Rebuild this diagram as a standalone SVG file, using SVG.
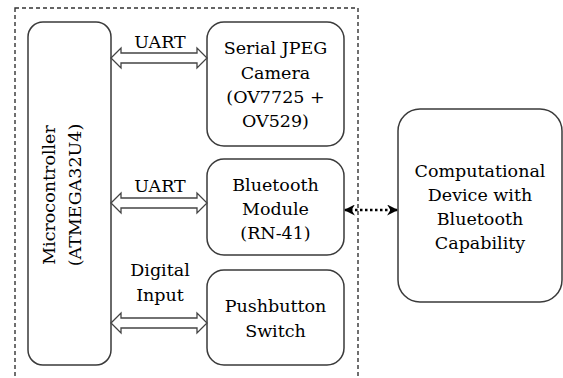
<svg xmlns="http://www.w3.org/2000/svg" width="563" height="378" viewBox="0 0 563 378">
<style>
.box{fill:#fff;stroke:#3a3a3a;stroke-width:1.5}
.t{font-family:"DejaVu Serif","Liberation Serif",serif;font-size:17.5px;fill:#000;text-anchor:middle}
.dbl{fill:#fff;stroke:#444;stroke-width:1.3;stroke-linejoin:miter}
</style>
<defs>
<marker id="ah" viewBox="0 0 10 10" refX="9" refY="5" markerWidth="11" markerHeight="11" markerUnits="userSpaceOnUse" orient="auto-start-reverse">
<path d="M0,0 L10,5 L0,10 L3,5 Z" fill="#000"/>
</marker>
</defs>
<rect x="15" y="8" width="343" height="380" fill="none" stroke="#333" stroke-width="1.4" stroke-dasharray="4,3"/>
<g id="mcu">
<rect class="box" x="28" y="22" width="83" height="343" rx="15"/>
<text class="t" transform="translate(55,195) rotate(-90)">Microcontroller</text>
<text class="t" transform="translate(81,195) rotate(-90)">(ATMEGA32U4)</text>
</g>
<g id="camera">
<rect class="box" x="207" y="22" width="137" height="124" rx="17"/>
<text class="t" x="275.5" y="54">Serial JPEG</text>
<text class="t" x="275.5" y="79">Camera</text>
<text class="t" x="275.5" y="103">(OV7725 +</text>
<text class="t" x="275.5" y="127">OV529)</text>
</g>
<g id="bluetooth">
<rect class="box" x="207" y="159" width="137" height="96" rx="17"/>
<text class="t" x="275.5" y="191">Bluetooth</text>
<text class="t" x="275.5" y="215">Module</text>
<text class="t" x="275.5" y="239">(RN-41)</text>
</g>
<g id="pushbutton">
<rect class="box" x="207" y="270" width="137" height="95" rx="17"/>
<text class="t" x="275.5" y="312">Pushbutton</text>
<text class="t" x="275.5" y="337">Switch</text>
</g>
<g id="device">
<rect class="box" x="398" y="109" width="164" height="193" rx="22"/>
<text class="t" x="480" y="177">Computational</text>
<text class="t" x="480" y="201">Device with</text>
<text class="t" x="480" y="225">Bluetooth</text>
<text class="t" x="480" y="249">Capability</text>
</g>
<g id="connectors">
<polygon class="dbl" points="111,58 121,48 121,53 197,53 197,48 207,58 197,68 197,63 121,63 121,68"/>
<text class="t" x="160" y="48">UART</text>
<polygon class="dbl" points="111,203 121,193 121,198 197,198 197,193 207,203 197,213 197,208 121,208 121,213"/>
<text class="t" x="160" y="192">UART</text>
<polygon class="dbl" points="111,323 121,313 121,318 197,318 197,313 207,323 197,333 197,328 121,328 121,333"/>
<text class="t" x="160" y="276">Digital</text>
<text class="t" x="160" y="301">Input</text>
<line x1="345" y1="210" x2="397" y2="210" stroke="#000" stroke-width="2.5" stroke-dasharray="2.5,2.5" marker-start="url(#ah)" marker-end="url(#ah)"/>
</g>
</svg>
